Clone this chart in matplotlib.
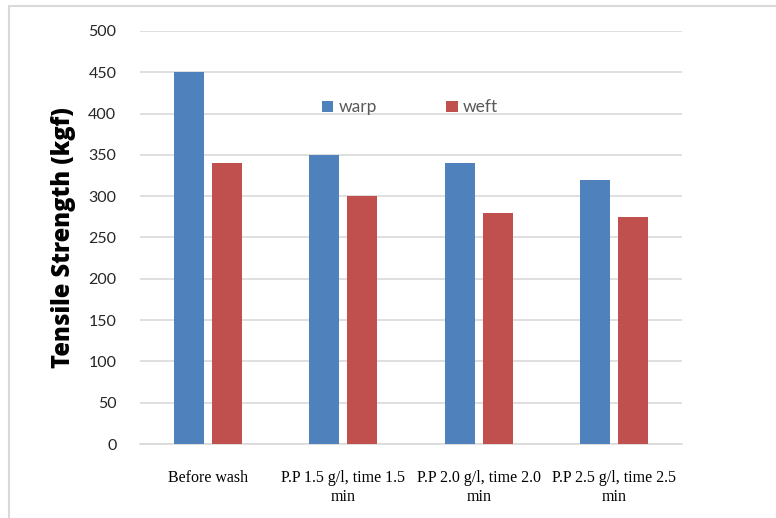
import matplotlib.pyplot as plt
import numpy as np
from matplotlib.patches import Rectangle

categories = ['Before wash', 'P.P 1.5 g/l, time 1.5\nmin',
              'P.P 2.0 g/l, time 2.0\nmin', 'P.P 2.5 g/l, time 2.5\nmin']
warp = [450, 350, 340, 320]
weft = [340, 300, 280, 275]
y_ticks = [0, 50, 100, 150, 200, 250, 300, 350, 400, 450, 500]

fig = plt.figure(figsize=(7.76, 5.18), dpi=100)
ax = fig.add_axes([140 / 776, 1 - 444 / 518, 542 / 776, 413 / 518])

x = np.arange(len(categories))
bar_w = 0.222
off = 0.14
ax.bar(x - off, warp, bar_w, color='#4F81BD', label='warp', zorder=3)
ax.bar(x + off, weft, bar_w, color='#C0504D', label='weft', zorder=3)

ax.set_xlim(-0.5, len(categories) - 0.5)
ax.set_ylim(0, 500)
ax.set_yticks(y_ticks)
ax.yaxis.grid(True, color='#D9D9D9', linewidth=1.2, zorder=0)
ax.set_axisbelow(True)

for side in ['top', 'right', 'left']:
    ax.spines[side].set_visible(False)
ax.spines['bottom'].set_color('#D9D9D9')
ax.spines['bottom'].set_linewidth(1.2)

ax.set_xticks(x)
ax.set_xticklabels(categories, family='Liberation Serif', fontsize=11.5,
                   linespacing=1.2)
ax.tick_params(axis='x', length=0, pad=19, colors='black')
ax.tick_params(axis='y', length=0, pad=17, labelsize=11.5, labelcolor='#262626')
for lbl in ax.get_yticklabels():
    lbl.set_family('Lato')

fig.text(63 / 776, 1 - 238 / 518, 'Tensile Strength (kgf)', rotation=90,
         ha='center', va='center', rotation_mode='anchor', fontsize=17,
         fontweight='heavy', family='Open Sans', color='black')

ax.legend(loc='center left', bbox_to_anchor=(0.336, 0.815), ncol=2,
          frameon=False, borderpad=0, borderaxespad=0, handlelength=0.65,
          handleheight=0.65, handletextpad=0.3, columnspacing=4.0,
          prop={'family': 'Lato', 'size': 12.5}, labelcolor='#595959')

# chart area border (top and left visible)
fig.patches.append(Rectangle((9 / 776, -0.1), 1.2, 1 - 6 / 518 + 0.1,
                             transform=fig.transFigure, fill=False,
                             edgecolor='#D9D9D9', linewidth=1.5))

fig.savefig('out.png', dpi=100)
